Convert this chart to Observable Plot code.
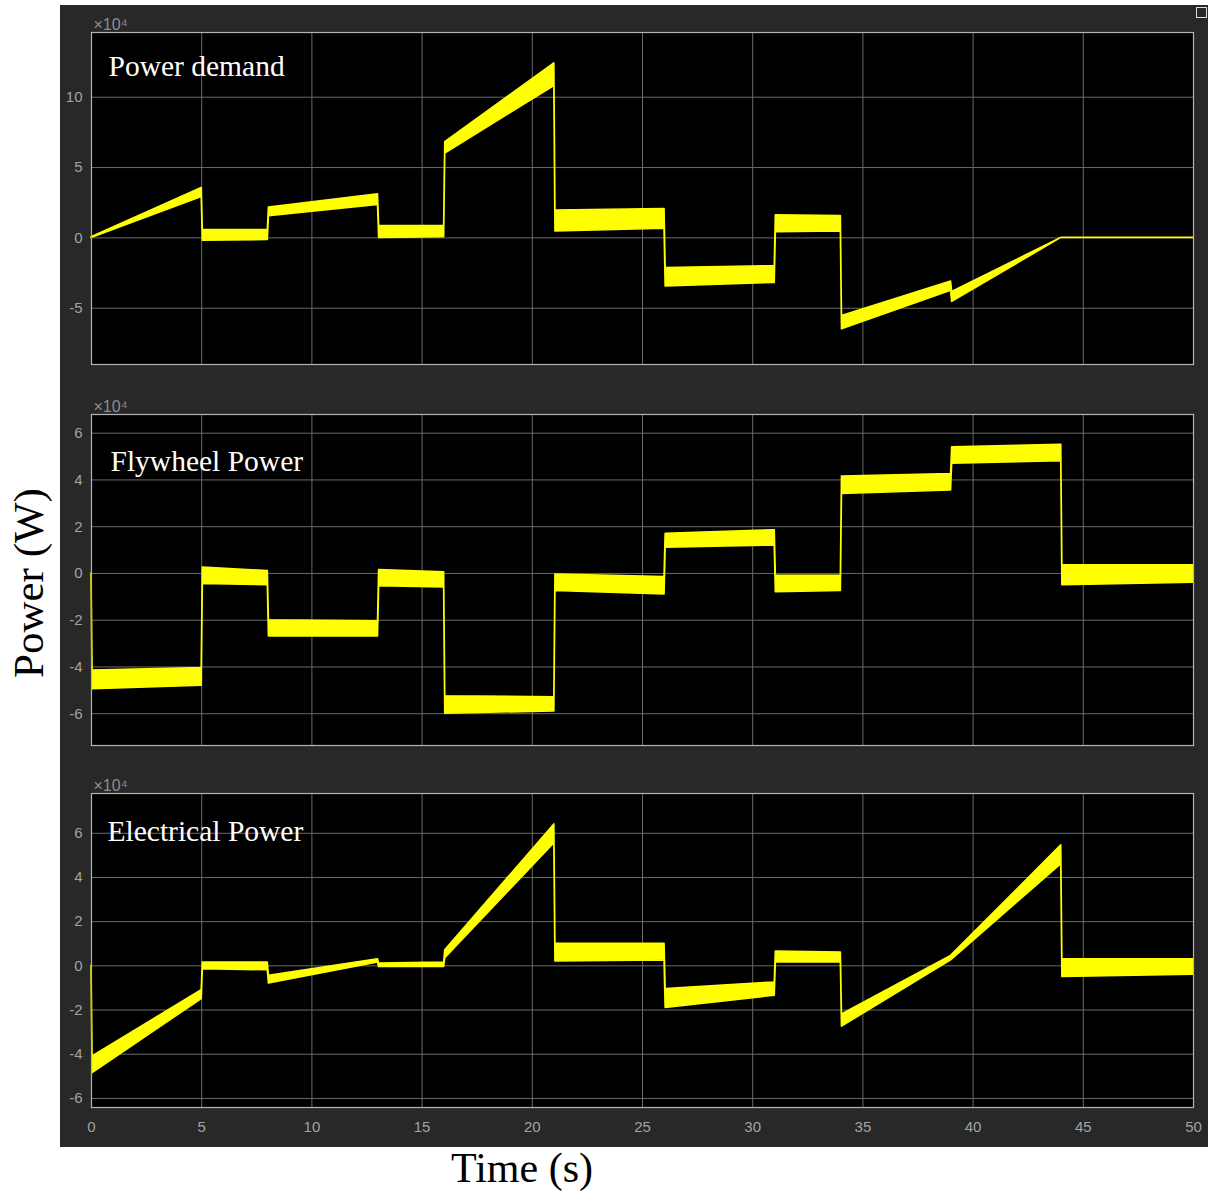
<!DOCTYPE html>
<html><head><meta charset="utf-8">
<script src="https://cdn.jsdelivr.net/npm/d3@7"></script>
<script src="https://cdn.jsdelivr.net/npm/@observablehq/plot@0.6"></script>
<style>
body{margin:0;background:#fff;width:1210px;height:1192px;position:relative;overflow:hidden}
#fig{position:absolute;left:60px;top:5px;width:1148px;height:1142px;background:#282828}
.p{position:absolute;left:0}
#ylab{position:absolute;left:28px;top:583px;transform:translate(-50%,-50%) rotate(-90deg);font:43px "Liberation Serif",serif;white-space:nowrap;color:#000}
#xlab{position:absolute;left:522px;top:1168px;transform:translate(-50%,-50%);font:42px "Liberation Serif",serif;white-space:nowrap;color:#000}
#icon{position:absolute;left:1196px;top:7px;width:9px;height:9px;border:1px solid #ddd}
</style>
</head><body>
<div id="fig"><div class="p" id="p1" style="top:0px"></div><div class="p" id="p2" style="top:375px"></div><div class="p" id="p3" style="top:755px"></div></div>
<div id="icon"></div>
<div id="ylab">Power (W)</div>
<div id="xlab">Time (s)</div>
<script>
// Time axis ticks (s)
const xTicks = [0, 5, 10, 15, 20, 25, 30, 35, 40, 45, 50];

// Panel titles
const titles = ["Power demand", "Flywheel Power", "Electrical Power"];

// Power demand (x1e4 W): time, lower edge and upper edge of the noisy band
const demandT  = [0, 5, 5.05, 8, 8.05, 13, 13.05, 16, 16.05, 21, 21.05, 26, 26.05, 31, 31.05, 34, 34.05, 39, 39.05, 44, 50];
const demandLo = [0, 2.9, -0.2, -0.15, 1.55, 2.35, 0.0, 0.05, 6.0, 10.8, 0.45, 0.65, -3.45, -3.2, 0.4, 0.45, -6.5, -3.75, -4.55, 0, 0];
const demandHi = [0.05, 3.55, 0.55, 0.55, 2.15, 3.1, 0.85, 0.85, 6.8, 12.4, 1.95, 2.05, -2.15, -2.0, 1.6, 1.55, -5.55, -3.1, -3.85, 0, 0];

// Flywheel power (x1e4 W)
const flyT  = [0, 0.05, 5, 5.05, 8, 8.05, 13, 13.05, 16, 16.05, 21, 21.05, 26, 26.05, 31, 31.05, 34, 34.05, 39, 39.05, 44, 44.05, 50];
const flyLo = [0, -4.95, -4.8, -0.45, -0.5, -2.7, -2.7, -0.55, -0.6, -6.0, -5.9, -0.75, -0.9, 1.1, 1.2, -0.8, -0.75, 3.4, 3.55, 4.7, 4.8, -0.5, -0.4];
const flyHi = [0, -4.15, -4.05, 0.25, 0.1, -2.0, -2.05, 0.15, 0.05, -5.25, -5.3, -0.05, -0.15, 1.7, 1.85, -0.1, -0.1, 4.15, 4.25, 5.4, 5.5, 0.35, 0.35];

// Electrical power (x1e4 W)
const elecT  = [0, 0.05, 5, 5.05, 8, 8.05, 13, 13.05, 16, 16.05, 21, 21.05, 26, 26.05, 31, 31.05, 34, 34.05, 39, 44, 44.05, 50];
const elecLo = [0, -4.85, -1.5, -0.15, -0.2, -0.8, 0.15, -0.05, -0.05, 0.35, 5.55, 0.2, 0.25, -1.9, -1.35, 0.15, 0.15, -2.75, 0.25, 4.6, -0.5, -0.4];
const elecHi = [0, -4.1, -1.1, 0.15, 0.15, -0.45, 0.3, 0.1, 0.15, 0.7, 6.4, 1.0, 1.0, -1.05, -0.75, 0.65, 0.6, -2.2, 0.45, 5.45, 0.3, 0.3];

// y tick values (x1e4)
const yTicks1 = [-5, 0, 5, 10];
const yTicks2 = [-6, -4, -2, 0, 2, 4, 6];
const yTicks3 = [-6, -4, -2, 0, 2, 4, 6];

const YELLOW = "#ffff00";
const GRID = "#6a6a6a";
const LABEL = "#a3a3a3";

function panel({T, lo, hi, yDomain, yTicks, title, height, mt, mb, titleDx, titleDy, xLabels}) {
  const data = T.map((t, i) => ({t, lo: lo[i], hi: hi[i]}));
  return Plot.plot({
    width: 1148, height,
    marginLeft: 31, marginRight: 15, marginTop: mt, marginBottom: mb,
    style: {background: "transparent", color: LABEL, fontFamily: "'Liberation Sans', Arial, sans-serif", fontSize: "15px", overflow: "visible"},
    x: {domain: [0, 50], axis: xLabels ? undefined : null},
    y: {domain: yDomain},
    marks: [
      Plot.frame({fill: "#000"}),
      Plot.gridX(xTicks, {stroke: GRID, strokeOpacity: 1}),
      Plot.gridY(yTicks, {stroke: GRID, strokeOpacity: 1}),
      Plot.areaY(data, {x: "t", y1: "lo", y2: "hi", fill: YELLOW, fillOpacity: 1, stroke: YELLOW, strokeWidth: 1.6, strokeLinejoin: "round", curve: "linear"}),
      Plot.axisY(yTicks, {tickSize: 0, tickPadding: 9, tickFormat: d => String(d), label: null, fill: LABEL}),
      xLabels ? Plot.axisX(xTicks, {tickSize: 0, tickPadding: 14, tickFormat: d => String(d), label: null, fill: LABEL}) : null,
      Plot.frame({stroke: "#b4b4b4", strokeWidth: 1.2}),
      Plot.text([title], {frameAnchor: "top-left", dx: titleDx, dy: titleDy, fill: "#fff", fontFamily: "'Liberation Serif', serif", fontSize: 29.5, textAnchor: "start", lineAnchor: "middle"}),
      Plot.text(["×10⁴"], {frameAnchor: "top-left", dx: 2, dy: -3, lineAnchor: "bottom", textAnchor: "start", fill: "#8e8e8e", fontSize: 16})
    ]
  });
}

document.getElementById("p1").append(panel({T: demandT, lo: demandLo, hi: demandHi, yDomain: [-9.0, 14.6], yTicks: yTicks1, title: titles[0], height: 375, mt: 27, mb: 16, titleDx: 17, titleDy: 34, xLabels: false}));
document.getElementById("p2").append(panel({T: flyT, lo: flyLo, hi: flyHi, yDomain: [-7.36, 6.8], yTicks: yTicks2, title: titles[1], height: 380, mt: 34, mb: 15, titleDx: 19, titleDy: 47, xLabels: false}));
document.getElementById("p3").append(panel({T: elecT, lo: elecLo, hi: elecHi, yDomain: [-6.41, 7.8], yTicks: yTicks3, title: titles[2], height: 387, mt: 33, mb: 40, titleDx: 16, titleDy: 38, xLabels: true}));
</script>
</body></html>
